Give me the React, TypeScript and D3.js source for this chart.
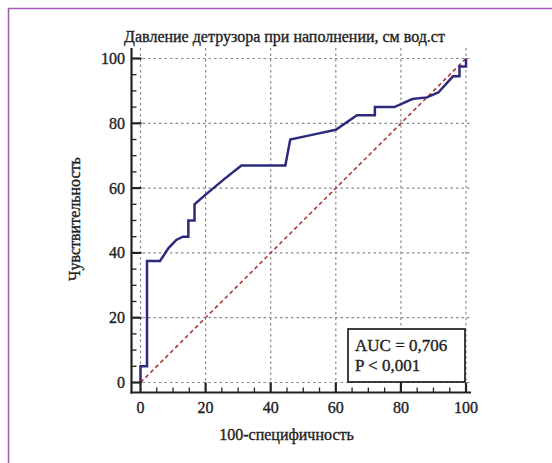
import React from "react";
import * as d3 from "d3";

const rocX = [0, 0, 2, 2, 6, 8.6, 11, 13, 14.7, 14.7, 16.6, 16.6, 20, 26, 31, 44.5, 46, 53, 60, 66.5, 72, 72, 78, 83.5, 88, 91.5, 96, 98, 98, 100, 100];
const rocY = [0, 5, 5, 37.5, 37.5, 41.5, 44, 45, 45, 50, 50, 55, 58, 63, 67, 67, 75, 76.5, 78, 82.5, 82.5, 85, 85, 87.5, 88, 89.5, 94.5, 94.5, 97.5, 97.5, 100];
const diagX = [0, 100];
const diagY = [0, 100];
const xTicks = [0, 20, 40, 60, 80, 100];
const yTicks = [0, 20, 40, 60, 80, 100];
const minorTicks = d3.range(0, 101, 5);
const titleText = "Давление детрузора при наполнении, см вод.ст";
const xLabel = "100-специфичность";
const yLabel = "Чувствительность";
const statLines = ["AUC = 0,706", "P < 0,001"];

export default function App() {
  const W = 552, H = 463;
  const x = d3.scaleLinear().domain([0, 100]).range([140.5, 466]);
  const y = d3.scaleLinear().domain([0, 100]).range([382.5, 58.5]);
  const axL = 131.5, axB = 392.5, axT = 48, axR = 471;
  const font = "'Liberation Serif', 'Times New Roman', serif";
  const line = d3.line<number>().x((_, i) => x(rocX[i])).y((_, i) => y(rocY[i]));
  const diag = d3.line<number>().x((_, i) => x(diagX[i])).y((_, i) => y(diagY[i]));
  const textColor = "#222";
  const tStyle = { stroke: textColor, strokeWidth: 0.35 };
  return (
    <svg width={W} height={H} style={{ position: "absolute", left: 0, top: 0, background: "#fff" }}>
      <rect x={0} y={0} width={W} height={H} fill="#fff" />
      <line x1={8} y1={8.5} x2={W} y2={8.5} stroke="#a65cb5" strokeWidth={1.6} />
      <line x1={8.5} y1={8} x2={8.5} y2={H} stroke="#a65cb5" strokeWidth={1.6} />
      <text x={284.5} y={42} textAnchor="middle" fontFamily={font} fontSize={16} fill={textColor} {...tStyle}>{titleText}</text>
      {yTicks.map(t => (
        <line key={"gy" + t} x1={axL} x2={axR} y1={y(t)} y2={y(t)} stroke="#8a8a8a" strokeWidth={1.2} strokeDasharray="2.5,3" />
      ))}
      {xTicks.map(t => (
        <line key={"gx" + t} x1={x(t)} x2={x(t)} y1={axT} y2={axB} stroke="#8a8a8a" strokeWidth={1.2} strokeDasharray="2.5,3" />
      ))}
      <path d={diag(diagX) || ""} fill="none" stroke="#a83a30" strokeWidth={1.6} strokeDasharray="4,3" />
      <path d={line(rocX) || ""} fill="none" stroke="#2c2a7c" strokeWidth={2.5} strokeLinejoin="miter" />
      <line x1={axL} x2={axL} y1={axT} y2={axB + 1} stroke="#222" strokeWidth={2.2} />
      <line x1={axL - 1} x2={axR} y1={axB} y2={axB} stroke="#222" strokeWidth={2.2} />
      {minorTicks.map(t => {
        const major = t % 20 === 0;
        return (
          <g key={"t" + t}>
            <line x1={axL} x2={axL + (major ? 10 : 5)} y1={y(t)} y2={y(t)} stroke="#222" strokeWidth={major ? 2.2 : 1.3} />
            <line x1={x(t)} x2={x(t)} y1={axB} y2={axB - (major ? 10 : 5)} stroke="#222" strokeWidth={major ? 2.2 : 1.3} />
          </g>
        );
      })}
      {yTicks.map(t => (
        <text key={"yl" + t} x={125} y={y(t) + 5.5} textAnchor="end" fontFamily={font} fontSize={16} fill={textColor} {...tStyle}>{t}</text>
      ))}
      {xTicks.map(t => (
        <text key={"xl" + t} x={x(t)} y={413} textAnchor="middle" fontFamily={font} fontSize={16} fill={textColor} {...tStyle}>{t}</text>
      ))}
      <text x={286.5} y={440} textAnchor="middle" fontFamily={font} fontSize={16} fill={textColor} {...tStyle}>{xLabel}</text>
      <text transform={`translate(80,219) rotate(-90)`} textAnchor="middle" fontFamily={font} fontSize={16} fill={textColor} {...tStyle}>{yLabel}</text>
      <rect x={348} y={329} width={117} height={53} fill="#fff" stroke="#111" strokeWidth={1.6} />
      {statLines.map((s, i) => (
        <text key={s} x={355} y={351 + i * 20} fontFamily={font} fontSize={17} fill={textColor} {...tStyle}>{s}</text>
      ))}
    </svg>
  );
}
